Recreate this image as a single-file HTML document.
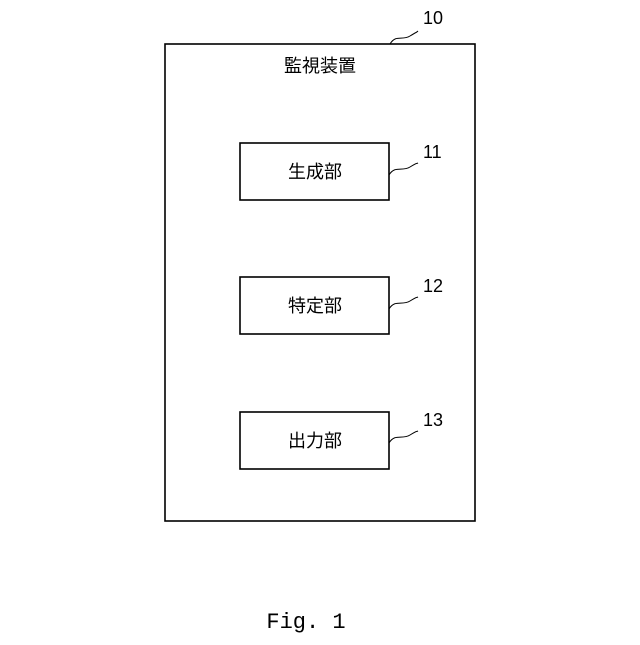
<!DOCTYPE html>
<html><head><meta charset="utf-8"><style>
html,body{margin:0;padding:0;background:#fff;}
svg text{font-family:"Liberation Sans","Noto Sans CJK JP",sans-serif;fill:#000;}
</style></head><body>
<svg width="640" height="640" viewBox="0 0 640 640" xmlns="http://www.w3.org/2000/svg">
<rect x="165" y="44" width="310" height="477" fill="none" stroke="#000" stroke-width="1.6"/>
<text x="320" y="72" font-size="18" text-anchor="middle">監視装置</text>
<rect x="240" y="143" width="149" height="57" fill="none" stroke="#000" stroke-width="1.6"/>
<text x="315" y="178" font-size="18" text-anchor="middle">生成部</text>
<rect x="240" y="277" width="149" height="57" fill="none" stroke="#000" stroke-width="1.6"/>
<text x="315" y="312" font-size="18" text-anchor="middle">特定部</text>
<rect x="240" y="412" width="149" height="57" fill="none" stroke="#000" stroke-width="1.6"/>
<text x="315" y="447" font-size="18" text-anchor="middle">出力部</text>
<g fill="none" stroke="#000" stroke-width="1">
<path d="M390 44 C396 34,402 41,410 36 S416 33,418 31"/>
<path d="M389 175 C395 165,402 172,410 167 S416 164,418 163"/>
<path d="M389 309 C395 299,402 306,410 301 S416 298,418 297"/>
<path d="M389 443 C395 433,402 440,410 435 S416 432,418 431"/>
</g>
<text x="423" y="24" font-size="18">10</text>
<text x="423" y="158" font-size="18">11</text>
<text x="423" y="292" font-size="18">12</text>
<text x="423" y="426" font-size="18">13</text>
<text x="306" y="628" font-size="22" text-anchor="middle" font-family="Liberation Mono, monospace" style="font-family:'Liberation Mono',monospace">Fig. 1</text>
</svg>
</body></html>
